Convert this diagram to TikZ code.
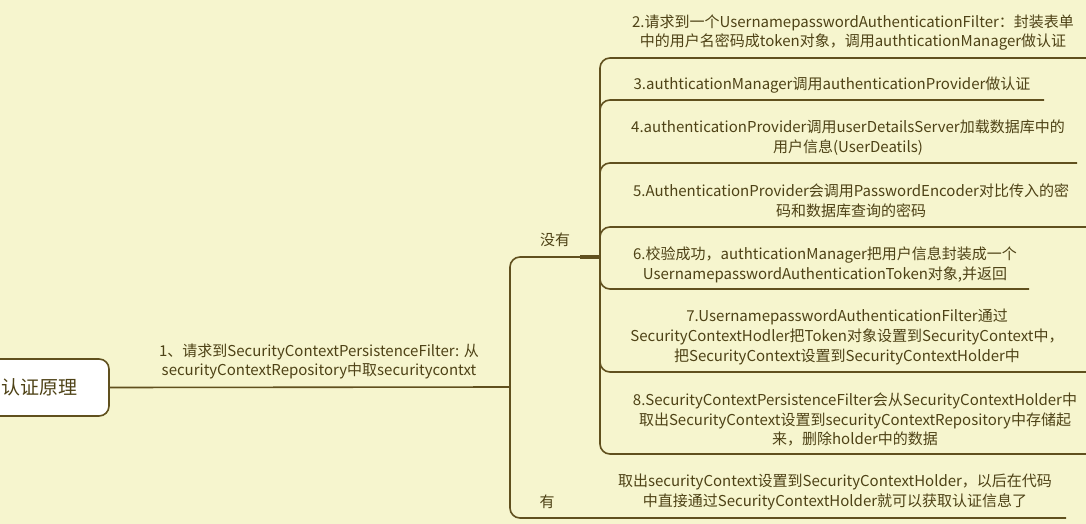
\documentclass[tikz,border=0pt]{standalone}
\usepackage{fontspec}
\setmainfont{Noto Sans CJK SC}
\definecolor{bg}{RGB}{246,245,206}
\definecolor{ln}{RGB}{96,80,30}
\definecolor{tx}{RGB}{78,66,22}
\begin{document}
\begin{tikzpicture}[x=1pt,y=-1pt]
\tikzset{
  lbl/.style={text=tx, font=\fontsize{15}{19.8}\selectfont, align=center, inner sep=0pt},
  conn/.style={draw=ln, line width=1.6pt, rounded corners=10pt},
  rootbox/.style={draw=ln, fill=white, rounded corners=10pt, line width=1.6pt,
    text=tx, font=\fontsize{19}{24}\selectfont, minimum width=139pt, minimum height=57pt, inner sep=0pt},
}
\useasboundingbox (0,0) rectangle (1086,524);
\fill[bg] (0,0) rectangle (1086,524);

% junctions and free ends
\coordinate (j1) at (510,387);
\coordinate (j2) at (600,257);
\coordinate (e2) at (1086,58);
\coordinate (e3) at (1044,100);
\coordinate (e4) at (1077,163);
\coordinate (e5) at (1086,227);
\coordinate (e6) at (1029,289);
\coordinate (e7) at (1086,372);
\coordinate (e8) at (1086,454);
\coordinate (e9) at (1066,518);

% connectors
\draw[conn] (j1) |- (j2);
\draw[conn] (j1) |- (e9);
\draw[conn] (j2) |- (e2);
\draw[conn] (j2) |- (e3);
\draw[conn] (j2) |- (e4);
\draw[conn] (j2) |- (e5);
\draw[conn] (j2) |- (e6);
\draw[conn] (j2) |- (e7);
\draw[conn] (j2) |- (e8);
\draw[draw=ln, line width=3.5pt] (580,257) -- (j2);

\node[rootbox] (root) at (39.5,387.5) {认证原理};
\draw[conn] (root.east) -- (j1);

% texts
\node[lbl] (t1) at (319,361.5) {1、请求到SecurityContextPersistenceFilter: 从\\securityContextRepository中取securitycontxt};
\node[lbl] (no) at (555,240) {没有};
\node[lbl] (yes) at (547,502) {有};
\node[lbl] (t2) at (853,32.5) {2.请求到一个UsernamepasswordAuthenticationFilter：封装表单\\中的用户名密码成token对象，调用authticationManager做认证};
\node[lbl] (t3) at (832,85) {3.authticationManager调用authenticationProvider做认证};
\node[lbl] (t4) at (848,138) {4.authenticationProvider调用userDetailsServer加载数据库中的\\用户信息(UserDeatils)};
\node[lbl] (t5) at (851,200.5) {5.AuthenticationProvider会调用PasswordEncoder对比传入的密\\码和数据库查询的密码};
\node[lbl] (t6) at (825,264.5) {6.校验成功，authticationManager把用户信息封装成一个\\UsernamepasswordAuthenticationToken对象,并返回};
\node[lbl] (t7) at (847,337) {7.UsernamepasswordAuthenticationFilter通过\\SecurityContextHodler把Token对象设置到SecurityContext中，\\把SecurityContext设置到SecurityContextHolder中};
\node[lbl] (t8) at (855,419.5) {8.SecurityContextPersistenceFilter会从SecurityContextHolder中\\取出SecurityContext设置到securityContextRepository中存储起\\来，删除holder中的数据};
\node[lbl] (t9) at (835,492) {取出securityContext设置到SecurityContextHolder，以后在代码\\中直接通过SecurityContextHolder就可以获取认证信息了};
\end{tikzpicture}
\end{document}
